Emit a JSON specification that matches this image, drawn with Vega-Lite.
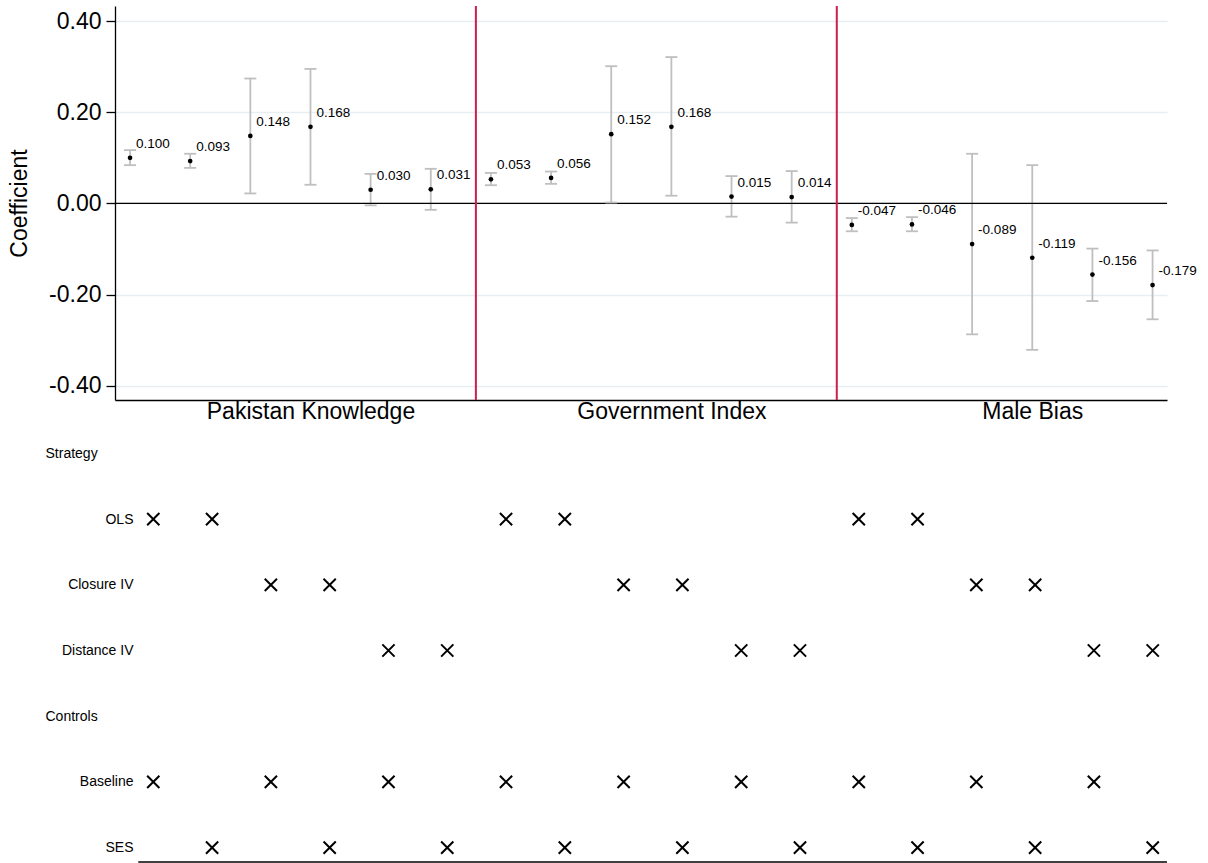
{
  "$schema": "https://vega.github.io/schema/vega-lite/v6.json",
  "background": "white",
  "padding": {"left": 8, "top": 5, "right": 5, "bottom": 0},
  "config": {
    "font": "Liberation Sans",
    "view": {"stroke": null},
    "locale": {"number": {"decimal": ".", "thousands": ",", "grouping": [3], "currency": ["$", ""], "minus": "-"}}
  },
  "datasets": {
    "specs": [
      {"pos": 1, "outcome": "Pakistan Knowledge", "strategy": "OLS", "controls": "Baseline", "coef": 0.100, "lo": 0.084, "hi": 0.117},
      {"pos": 2, "outcome": "Pakistan Knowledge", "strategy": "OLS", "controls": "SES", "coef": 0.093, "lo": 0.078, "hi": 0.109},
      {"pos": 3, "outcome": "Pakistan Knowledge", "strategy": "Closure IV", "controls": "Baseline", "coef": 0.148, "lo": 0.022, "hi": 0.274},
      {"pos": 4, "outcome": "Pakistan Knowledge", "strategy": "Closure IV", "controls": "SES", "coef": 0.168, "lo": 0.041, "hi": 0.295},
      {"pos": 5, "outcome": "Pakistan Knowledge", "strategy": "Distance IV", "controls": "Baseline", "coef": 0.030, "lo": -0.004, "hi": 0.065},
      {"pos": 6, "outcome": "Pakistan Knowledge", "strategy": "Distance IV", "controls": "SES", "coef": 0.031, "lo": -0.014, "hi": 0.076},
      {"pos": 7, "outcome": "Government Index", "strategy": "OLS", "controls": "Baseline", "coef": 0.053, "lo": 0.040, "hi": 0.067},
      {"pos": 8, "outcome": "Government Index", "strategy": "OLS", "controls": "SES", "coef": 0.056, "lo": 0.043, "hi": 0.070},
      {"pos": 9, "outcome": "Government Index", "strategy": "Closure IV", "controls": "Baseline", "coef": 0.152, "lo": 0.002, "hi": 0.301},
      {"pos": 10, "outcome": "Government Index", "strategy": "Closure IV", "controls": "SES", "coef": 0.168, "lo": 0.017, "hi": 0.321},
      {"pos": 11, "outcome": "Government Index", "strategy": "Distance IV", "controls": "Baseline", "coef": 0.015, "lo": -0.029, "hi": 0.060},
      {"pos": 12, "outcome": "Government Index", "strategy": "Distance IV", "controls": "SES", "coef": 0.014, "lo": -0.042, "hi": 0.071},
      {"pos": 13, "outcome": "Male Bias", "strategy": "OLS", "controls": "Baseline", "coef": -0.047, "lo": -0.061, "hi": -0.032},
      {"pos": 14, "outcome": "Male Bias", "strategy": "OLS", "controls": "SES", "coef": -0.046, "lo": -0.061, "hi": -0.030},
      {"pos": 15, "outcome": "Male Bias", "strategy": "Closure IV", "controls": "Baseline", "coef": -0.089, "lo": -0.287, "hi": 0.109},
      {"pos": 16, "outcome": "Male Bias", "strategy": "Closure IV", "controls": "SES", "coef": -0.119, "lo": -0.321, "hi": 0.084},
      {"pos": 17, "outcome": "Male Bias", "strategy": "Distance IV", "controls": "Baseline", "coef": -0.156, "lo": -0.214, "hi": -0.099},
      {"pos": 18, "outcome": "Male Bias", "strategy": "Distance IV", "controls": "SES", "coef": -0.179, "lo": -0.254, "hi": -0.103}
    ],
    "dividers": [{"pos": 6.75}, {"pos": 12.75}],
    "zero": [{"coef": 0}]
  },
  "bounds": "flush",
  "spacing": 39,
  "resolve": {"scale": {"x": "independent", "y": "independent"}},
  "vconcat": [
    {
      "width": 1052,
      "height": 394,
      "data": {"name": "specs"},
      "layer": [
        {
          "mark": {"type": "rule", "color": "#bfbfbf", "strokeWidth": 1.8},
          "encoding": {
            "x": {
              "field": "pos", "type": "quantitative", "title": null,
              "scale": {"domain": [0.75, 18.24], "nice": false, "zero": false},
              "axis": {
                "values": [4, 10, 16],
                "labelExpr": "datum.value == 4 ? 'Pakistan Knowledge' : datum.value == 10 ? 'Government Index' : 'Male Bias'",
                "ticks": false, "tickSize": 0, "labelPadding": 0, "labelFontSize": 23, "labelLimit": 0,
                "labelColor": "black", "labelFlush": false, "labelOverlap": false,
                "domainColor": "black", "domainWidth": 1.3, "grid": false
              }
            },
            "y": {
              "field": "lo", "type": "quantitative", "title": "Coefficient",
              "scale": {"domain": [-0.431, 0.433], "nice": false, "zero": false},
              "axis": {
                "values": [-0.4, -0.2, 0, 0.2, 0.4], "format": ".2f",
                "labelFontSize": 23, "labelColor": "black", "labelPadding": 5,
                "tickSize": 9, "tickColor": "black", "tickWidth": 1.3,
                "domainColor": "black", "domainWidth": 1.3,
                "grid": true, "gridColor": "#e6eef1", "gridWidth": 1.5,
                "titleFontSize": 23, "titleFontWeight": "normal", "titleColor": "black", "titlePadding": 17
              }
            },
            "y2": {"field": "hi"}
          }
        },
        {
          "data": {"name": "zero"},
          "mark": {"type": "rule", "color": "black", "strokeWidth": 1.3},
          "encoding": {"y": {"field": "coef", "type": "quantitative", "title": "Coefficient"}}
        },
        {
          "data": {"name": "dividers"},
          "mark": {"type": "rule", "color": "#cc1f4c", "strokeWidth": 2},
          "encoding": {"x": {"field": "pos", "type": "quantitative", "title": null}}
        },
        {
          "mark": {"type": "tick", "orient": "horizontal", "color": "#bfbfbf", "size": 12, "thickness": 1.8, "opacity": 1},
          "encoding": {
            "x": {"field": "pos", "type": "quantitative", "title": null},
            "y": {"field": "lo", "type": "quantitative", "title": "Coefficient"}
          }
        },
        {
          "mark": {"type": "tick", "orient": "horizontal", "color": "#bfbfbf", "size": 12, "thickness": 1.8, "opacity": 1},
          "encoding": {
            "x": {"field": "pos", "type": "quantitative", "title": null},
            "y": {"field": "hi", "type": "quantitative", "title": "Coefficient"}
          }
        },
        {
          "mark": {"type": "circle", "color": "black", "size": 22, "opacity": 1},
          "encoding": {
            "x": {"field": "pos", "type": "quantitative", "title": null},
            "y": {"field": "coef", "type": "quantitative", "title": "Coefficient"}
          }
        },
        {
          "mark": {"type": "text", "align": "left", "baseline": "alphabetic", "dx": 6, "dy": -10, "fontSize": 13.5, "color": "black"},
          "encoding": {
            "x": {"field": "pos", "type": "quantitative", "title": null},
            "y": {"field": "coef", "type": "quantitative", "title": "Coefficient"},
            "text": {"field": "coef", "type": "quantitative", "format": ".3f"}
          }
        }
      ]
    },
    {
      "width": 1052,
      "height": 423,
      "data": {"name": "specs"},
      "layer": [
        {
          "data": {"values": [{}]},
          "mark": {"type": "rule", "color": "black", "strokeWidth": 1.3},
          "encoding": {
            "x": {"datum": 0.745, "type": "quantitative", "scale": {"domain": [0.3485, 18.243], "nice": false, "zero": false}, "axis": null},
            "x2": {"datum": 18.243},
            "y": {"value": "height"}
          }
        },
        {
          "mark": {"type": "point", "shape": "M-1,-1L1,1M-1,1L1,-1", "filled": false, "size": 150, "strokeWidth": 2, "color": "black", "opacity": 1},
          "encoding": {
            "x": {"field": "pos", "type": "quantitative", "axis": null},
            "y": {
              "field": "strategy", "type": "nominal", "title": null,
              "scale": {"type": "point", "domain": ["Strategy", "OLS", "Closure IV", "Distance IV", "Controls", "Baseline", "SES"], "padding": 0.22},
              "axis": {
                "domain": false, "ticks": false, "tickSize": 0, "grid": false,
                "labelFontSize": 14, "labelColor": "black", "labelBaseline": "middle",
                "labelAlign": {"condition": {"test": "datum.value === 'Strategy' || datum.value === 'Controls'", "value": "left"}, "value": "right"},
                "labelPadding": {"condition": {"test": "datum.value === 'Strategy' || datum.value === 'Controls'", "value": 70}, "value": -18}
              }
            }
          }
        },
        {
          "mark": {"type": "point", "shape": "M-1,-1L1,1M-1,1L1,-1", "filled": false, "size": 150, "strokeWidth": 2, "color": "black", "opacity": 1},
          "encoding": {
            "x": {"field": "pos", "type": "quantitative", "axis": null},
            "y": {"field": "controls", "type": "nominal", "title": null}
          }
        }
      ]
    }
  ]
}
